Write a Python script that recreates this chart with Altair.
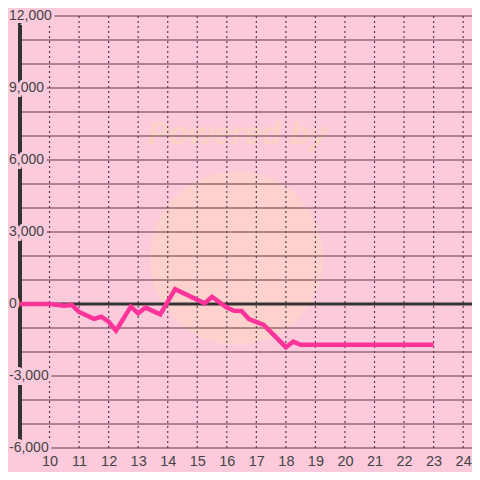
import altair as alt
import pandas as pd

# ---- data ----
hours = [9, 10, 10.5, 10.75, 11, 11.5, 11.75, 12, 12.25, 12.75, 13, 13.25, 13.75,
         14.25, 15.25, 15.5, 16, 16.25, 16.5, 16.75, 17.25, 18, 18.25, 18.5, 23]
values = [0, 0, -70, -40, -330, -620, -530, -740, -1110, -110, -390, -150, -430,
          620, 30, 300, -150, -280, -290, -630, -875, -1800, -1570, -1700, -1700]

x_ticks = list(range(10, 25))
y_grid = list(range(-6000, 12001, 1000))
y_label_values = [12000, 9000, 6000, 3000, 0, -3000, -6000]
y_label_text = ["12,000", "9,000", "6,000", "3,000", "0", "-3,000", "-6,000"]

wm_x = [16.33]
wm_y = [1917]
wm_text_x = [16.37]
wm_text_y = [7083]

BG = "#fdcadb"
GRID = "#5b3c4c"
DARK = "#333333"
PINK = "#ff3399"
FONT = "Liberation Sans"

xs = alt.Scale(domain=[9, 24.3], nice=False, zero=False)
ys = alt.Scale(domain=[-6000, 12000], nice=False, zero=False)
XAX = alt.Axis(values=x_ticks, grid=False, domain=False, ticks=False,
               labelFontSize=14.5, labelColor="#444444", labelFont=FONT,
               labelPadding=6, title=None, format="d")

line_df = pd.DataFrame({"hour": hours, "value": values})
xt_df = pd.DataFrame({"h": x_ticks})
yg_df = pd.DataFrame({"v": y_grid})
yl_df = pd.DataFrame({"v": y_label_values, "t": y_label_text})
wm_df = pd.DataFrame({"x": wm_x, "y": wm_y})
wmt_df = pd.DataFrame({"x": wm_text_x, "y": wm_text_y, "t": ["Powered by"]})
zero_df = pd.DataFrame({"v": [0]})
left_df = pd.DataFrame({"h": [9]})

wm_circle = alt.Chart(wm_df).mark_circle(size=30000, color="#ffd6c4", opacity=0.65).encode(
    x=alt.X("x:Q", scale=xs, axis=XAX), y=alt.Y("y:Q", scale=ys, axis=None))

wm_text = alt.Chart(wmt_df).mark_text(fontSize=32, fontWeight="bold", fontStyle="italic",
                                       font=FONT, color="#fbd2c4").encode(
    x=alt.X("x:Q", scale=xs, axis=XAX), y=alt.Y("y:Q", scale=ys, axis=None), text="t:N")

hgrid = alt.Chart(yg_df).mark_rule(color=GRID, strokeWidth=1.2).encode(
    y=alt.Y("v:Q", scale=ys, axis=None))

vgrid = alt.Chart(xt_df).mark_rule(color=GRID, strokeWidth=1.2, strokeDash=[2, 3]).encode(
    x=alt.X("h:Q", scale=xs, axis=XAX))

zero_line = alt.Chart(zero_df).mark_rule(color=DARK, strokeWidth=3).encode(
    y=alt.Y("v:Q", scale=ys, axis=None))

left_line = alt.Chart(left_df).mark_rule(color=DARK, strokeWidth=4).encode(
    x=alt.X("h:Q", scale=xs, axis=XAX))

line = alt.Chart(line_df).mark_line(color=PINK, strokeWidth=4.5).encode(
    x=alt.X("hour:Q", scale=xs, axis=XAX), y=alt.Y("value:Q", scale=ys, axis=None))

label_halo = alt.Chart(yl_df).mark_text(align="left", baseline="middle", fontSize=14, font=FONT,
                                         color=BG, stroke=BG, strokeWidth=6).encode(
    x=alt.value(-11), y=alt.Y("v:Q", scale=ys, axis=None), text="t:N")

labels = alt.Chart(yl_df).mark_text(align="left", baseline="middle", fontSize=14, font=FONT,
                                     color="#444444").encode(
    x=alt.value(-11), y=alt.Y("v:Q", scale=ys, axis=None), text="t:N")

chart = alt.layer(wm_circle, wm_text, hgrid, vgrid, zero_line, left_line, line, label_halo, labels).properties(
    width=452, height=432, autosize="none",
    padding={"left": 12, "top": 8, "right": 0, "bottom": 24},
    background=BG,
).configure_view(stroke=None)

chart.save("out.html", embed_options={"renderer": "svg", "actions": False})
